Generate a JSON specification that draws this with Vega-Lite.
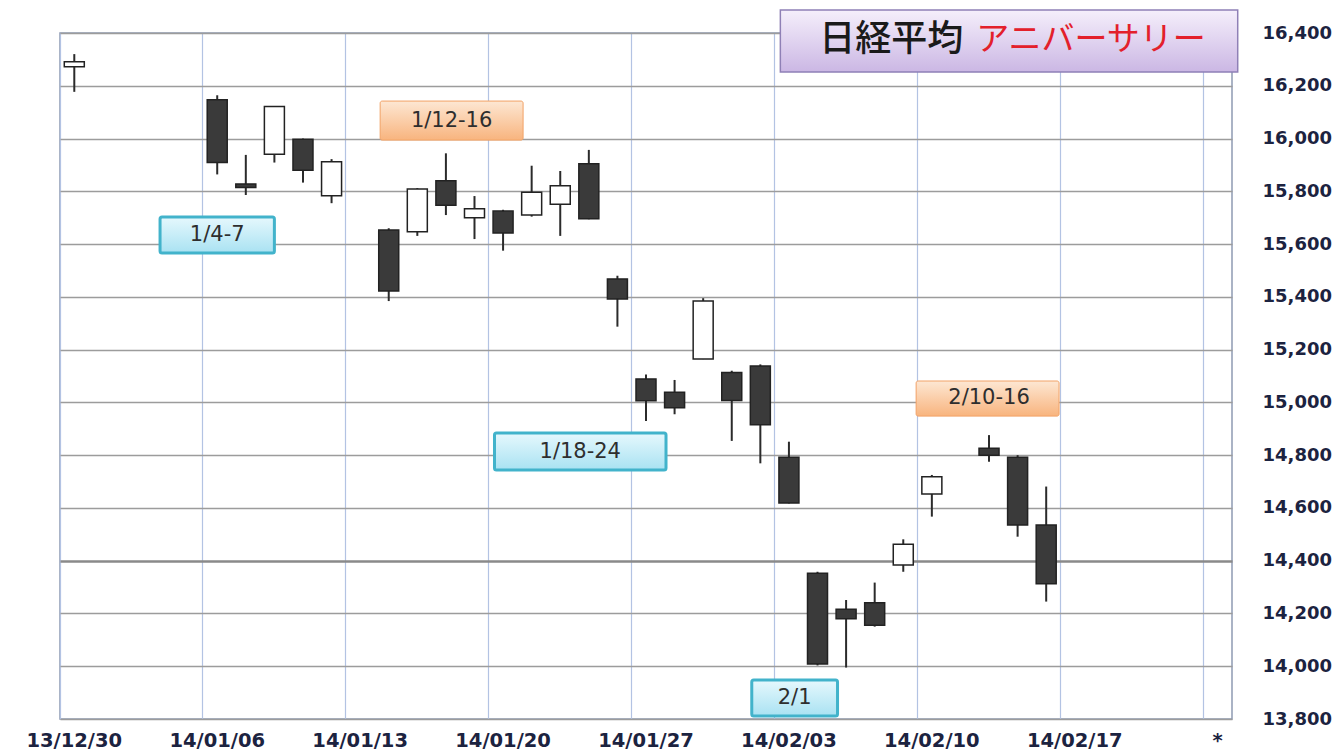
{
  "$schema": "https://vega.github.io/schema/vega-lite/v6.json",
  "width": 1172,
  "height": 686,
  "autosize": {"type": "none"},
  "padding": {"left": 60, "top": 33, "right": 102, "bottom": 36},
  "background": "white",
  "config": {"view": {"stroke": "#8f9bb3", "strokeWidth": 1.5}},
  "datasets": {
    "ohlc": [
      {"d": "13/12/30", "o": 16272, "h": 16320, "l": 16177, "c": 16291},
      {"d": "14/01/06", "o": 16147, "h": 16164, "l": 15864, "c": 15909},
      {"d": "14/01/07", "o": 15828, "h": 15938, "l": 15786, "c": 15814},
      {"d": "14/01/08", "o": 15940, "h": 16123, "l": 15909, "c": 16121},
      {"d": "14/01/09", "o": 15997, "h": 16000, "l": 15833, "c": 15880},
      {"d": "14/01/10", "o": 15783, "h": 15922, "l": 15755, "c": 15912},
      {"d": "14/01/14", "o": 15653, "h": 15660, "l": 15384, "c": 15422},
      {"d": "14/01/15", "o": 15647, "h": 15812, "l": 15631, "c": 15809},
      {"d": "14/01/16", "o": 15840, "h": 15944, "l": 15710, "c": 15747},
      {"d": "14/01/17", "o": 15700, "h": 15782, "l": 15619, "c": 15734},
      {"d": "14/01/20", "o": 15725, "h": 15730, "l": 15575, "c": 15642},
      {"d": "14/01/21", "o": 15710, "h": 15897, "l": 15704, "c": 15796},
      {"d": "14/01/22", "o": 15751, "h": 15877, "l": 15631, "c": 15821},
      {"d": "14/01/23", "o": 15904, "h": 15957, "l": 15694, "c": 15696},
      {"d": "14/01/24", "o": 15468, "h": 15480, "l": 15287, "c": 15392},
      {"d": "14/01/27", "o": 15089, "h": 15106, "l": 14929, "c": 15006},
      {"d": "14/01/28", "o": 15038, "h": 15085, "l": 14955, "c": 14980},
      {"d": "14/01/29", "o": 15164, "h": 15395, "l": 15164, "c": 15384},
      {"d": "14/01/30", "o": 15113, "h": 15120, "l": 14854, "c": 15007},
      {"d": "14/01/31", "o": 15138, "h": 15144, "l": 14769, "c": 14915},
      {"d": "14/02/03", "o": 14792, "h": 14851, "l": 14617, "c": 14619},
      {"d": "14/02/04", "o": 14352, "h": 14358, "l": 14003, "c": 14008},
      {"d": "14/02/05", "o": 14216, "h": 14251, "l": 13995, "c": 14180},
      {"d": "14/02/06", "o": 14241, "h": 14317, "l": 14150, "c": 14155},
      {"d": "14/02/07", "o": 14384, "h": 14481, "l": 14358, "c": 14462},
      {"d": "14/02/10", "o": 14653, "h": 14725, "l": 14567, "c": 14718},
      {"d": "14/02/12", "o": 14826, "h": 14876, "l": 14775, "c": 14800},
      {"d": "14/02/13", "o": 14792, "h": 14800, "l": 14491, "c": 14535},
      {"d": "14/02/14", "o": 14535, "h": 14681, "l": 14245, "c": 14313}
    ],
    "boxes": [
      {"k": "cA", "d": "14/01/02", "d2": "14/01/08", "top": 15703, "bottom": 15566},
      {"k": "cB", "d": "14/01/20", "d2": "14/01/28", "top": 14884, "bottom": 14744},
      {"k": "cB", "d": "14/01/31", "d2": "14/02/05", "top": 13948, "bottom": 13811},
      {"k": "oA", "d": "14/01/14", "d2": "14/01/21", "top": 16142, "bottom": 15994},
      {"k": "oB", "d": "14/02/07", "d2": "14/02/14", "top": 15081, "bottom": 14948},
      {"k": "t", "d": "14/02/03", "d2": "14/02/24", "top": 16487, "bottom": 16252}
    ],
    "labels": [
      {"k": "p5", "d": "14/01/06", "v": 15634, "t": "1/4-7"},
      {"k": "p5", "d": "14/02/12", "v": 15017, "t": "2/10-16"},
      {"k": "p7", "d": "14/01/16", "v": 16067, "t": "1/12-16"},
      {"k": "p7", "d": "14/02/03", "v": 13880, "t": "2/1"},
      {"k": "p2", "d": "14/01/23", "v": 14812, "t": "1/18-24"}
    ],
    "title": [
      {"k": "a", "d": "14/02/11", "v": 16373, "t": "日経平均"},
      {"k": "b", "d": "14/02/12", "v": 16373, "t": "アニバーサリー"}
    ]
  },
  "layer": [
    {
      "data": {"name": "ohlc"},
      "mark": {"type": "rule", "color": "#2b2b2b", "strokeWidth": 2},
      "encoding": {
        "x": {
          "field": "d", "type": "ordinal",
          "scale": {"type": "band", "paddingInner": 0, "paddingOuter": 0,
            "domain": ["13/12/30","13/12/31","14/01/01","14/01/02","14/01/03","14/01/06","14/01/07","14/01/08","14/01/09","14/01/10","14/01/13","14/01/14","14/01/15","14/01/16","14/01/17","14/01/20","14/01/21","14/01/22","14/01/23","14/01/24","14/01/27","14/01/28","14/01/29","14/01/30","14/01/31","14/02/03","14/02/04","14/02/05","14/02/06","14/02/07","14/02/10","14/02/11","14/02/12","14/02/13","14/02/14","14/02/17","14/02/18","14/02/19","14/02/20","14/02/21","14/02/24"]},
          "axis": {
            "title": null,
            "values": ["13/12/30","14/01/06","14/01/13","14/01/20","14/01/27","14/02/03","14/02/10","14/02/17","14/02/24"],
            "bandPosition": 0,
            "labelExpr": "datum.value == '14/02/24' ? '*' : datum.value",
            "labelOverlap": false,
            "labelAngle": 0,
            "grid": true, "gridColor": "#b3c3e3", "gridWidth": 1.2,
            "ticks": false, "domain": false,
            "labelFont": "DejaVu Sans", "labelFontSize": 19.5, "labelFontWeight": "bold",
            "labelColor": "#1c2340", "labelPadding": 12
          }
        },
        "y": {
          "field": "l", "type": "quantitative",
          "scale": {"domain": [13800, 16400], "nice": false, "zero": false},
          "axis": {
            "title": null, "orient": "right",
            "values": [13800,14000,14200,14400,14600,14800,15000,15200,15400,15600,15800,16000,16200,16400],
            "format": ",d",
            "grid": true,
            "gridColor": {"condition": {"test": "datum.value == 14400", "value": "#8a8a8a"}, "value": "#9c9c9c"},
            "gridWidth": {"condition": {"test": "datum.value == 14400", "value": 2.6}, "value": 1.3},
            "ticks": false, "domain": false,
            "labelFont": "DejaVu Sans", "labelFontSize": 18, "labelFontWeight": "bold",
            "labelColor": "#1c2340", "labelPadding": 30
          }
        },
        "y2": {"field": "h"}
      }
    },
    {
      "data": {"name": "ohlc"},
      "mark": {"type": "bar", "width": {"band": 0.7}, "stroke": "#222222", "strokeWidth": 1.5},
      "encoding": {
        "x": {"field": "d", "type": "ordinal"},
        "y": {"field": "o", "type": "quantitative"},
        "y2": {"field": "c"},
        "fill": {"condition": {"test": "datum.c >= datum.o", "value": "#ffffff"}, "value": "#3a3a3a"}
      }
    },
    {
      "data": {"name": "boxes"},
      "transform": [{"filter": "datum.k == 'cA'"}],
      "mark": {"type": "rect", "stroke": "#42b3cb", "strokeWidth": 3, "cornerRadius": 2,
        "fill": {"gradient": "linear", "x1": 0, "y1": 0, "x2": 0, "y2": 1, "stops": [{"offset": 0, "color": "#e6f8fd"}, {"offset": 1, "color": "#a9e2f2"}]}},
      "encoding": {
        "x": {"field": "d", "type": "ordinal", "bandPosition": 0.5},
        "x2": {"field": "d2", "bandPosition": 0.5},
        "y": {"field": "top", "type": "quantitative"},
        "y2": {"field": "bottom"}
      }
    },
    {
      "data": {"name": "boxes"},
      "transform": [{"filter": "datum.k == 'cB'"}],
      "mark": {"type": "rect", "stroke": "#42b3cb", "strokeWidth": 3, "cornerRadius": 2,
        "fill": {"gradient": "linear", "x1": 0, "y1": 0, "x2": 0, "y2": 1, "stops": [{"offset": 0, "color": "#e6f8fd"}, {"offset": 1, "color": "#a9e2f2"}]}},
      "encoding": {
        "x": {"field": "d", "type": "ordinal", "bandPosition": 0.2},
        "x2": {"field": "d2", "bandPosition": 0.2},
        "y": {"field": "top", "type": "quantitative"},
        "y2": {"field": "bottom"}
      }
    },
    {
      "data": {"name": "boxes"},
      "transform": [{"filter": "datum.k == 'oA'"}],
      "mark": {"type": "rect", "stroke": "#f2a266", "strokeWidth": 1, "cornerRadius": 2,
        "fill": {"gradient": "linear", "x1": 0, "y1": 0, "x2": 0, "y2": 1, "stops": [{"offset": 0, "color": "#fde7d3"}, {"offset": 1, "color": "#f8b47e"}]}},
      "encoding": {
        "x": {"field": "d", "type": "ordinal", "bandPosition": 0.2},
        "x2": {"field": "d2", "bandPosition": 0.2},
        "y": {"field": "top", "type": "quantitative"},
        "y2": {"field": "bottom"}
      }
    },
    {
      "data": {"name": "boxes"},
      "transform": [{"filter": "datum.k == 'oB'"}],
      "mark": {"type": "rect", "stroke": "#f2a266", "strokeWidth": 1, "cornerRadius": 2,
        "fill": {"gradient": "linear", "x1": 0, "y1": 0, "x2": 0, "y2": 1, "stops": [{"offset": 0, "color": "#fde7d3"}, {"offset": 1, "color": "#f8b47e"}]}},
      "encoding": {
        "x": {"field": "d", "type": "ordinal", "bandPosition": 0.95},
        "x2": {"field": "d2", "bandPosition": 0.95},
        "y": {"field": "top", "type": "quantitative"},
        "y2": {"field": "bottom"}
      }
    },
    {
      "data": {"name": "boxes"},
      "transform": [{"filter": "datum.k == 't'"}],
      "mark": {"type": "rect", "stroke": "#8f80b6", "strokeWidth": 1.5,
        "fill": {"gradient": "linear", "x1": 0, "y1": 0, "x2": 0, "y2": 1, "stops": [{"offset": 0, "color": "#f5effb"}, {"offset": 1, "color": "#cbb7e4"}]}},
      "encoding": {
        "x": {"field": "d", "type": "ordinal", "bandPosition": 0.2},
        "x2": {"field": "d2", "bandPosition": 1.2},
        "y": {"field": "top", "type": "quantitative"},
        "y2": {"field": "bottom"}
      }
    },
    {
      "data": {"name": "labels"},
      "transform": [{"filter": "datum.k == 'p5'"}],
      "mark": {"type": "text", "font": "DejaVu Sans", "fontSize": 21, "fontWeight": 500, "color": "#2e2e2e", "baseline": "middle", "align": "center"},
      "encoding": {
        "x": {"field": "d", "type": "ordinal", "bandPosition": 0.5},
        "y": {"field": "v", "type": "quantitative"},
        "text": {"field": "t"}
      }
    },
    {
      "data": {"name": "labels"},
      "transform": [{"filter": "datum.k == 'p7'"}],
      "mark": {"type": "text", "font": "DejaVu Sans", "fontSize": 21, "fontWeight": 500, "color": "#2e2e2e", "baseline": "middle", "align": "center"},
      "encoding": {
        "x": {"field": "d", "type": "ordinal", "bandPosition": 0.7},
        "y": {"field": "v", "type": "quantitative"},
        "text": {"field": "t"}
      }
    },
    {
      "data": {"name": "labels"},
      "transform": [{"filter": "datum.k == 'p2'"}],
      "mark": {"type": "text", "font": "DejaVu Sans", "fontSize": 21, "fontWeight": 500, "color": "#2e2e2e", "baseline": "middle", "align": "center"},
      "encoding": {
        "x": {"field": "d", "type": "ordinal", "bandPosition": 0.2},
        "y": {"field": "v", "type": "quantitative"},
        "text": {"field": "t"}
      }
    },
    {
      "data": {"name": "title"},
      "transform": [{"filter": "datum.k == 'a'"}],
      "mark": {"type": "text", "font": "Noto Sans CJK JP", "fontSize": 36, "fontWeight": 500, "color": "#1a1a1a", "baseline": "middle", "align": "right"},
      "encoding": {
        "x": {"field": "d", "type": "ordinal", "bandPosition": 0.6},
        "y": {"field": "v", "type": "quantitative"},
        "text": {"field": "t"}
      }
    },
    {
      "data": {"name": "title"},
      "transform": [{"filter": "datum.k == 'b'"}],
      "mark": {"type": "text", "font": "Noto Sans CJK JP", "fontSize": 33, "color": "#e3202b", "baseline": "middle", "align": "left"},
      "encoding": {
        "x": {"field": "d", "type": "ordinal", "bandPosition": 0.05},
        "y": {"field": "v", "type": "quantitative"},
        "text": {"field": "t"}
      }
    }
  ]
}
